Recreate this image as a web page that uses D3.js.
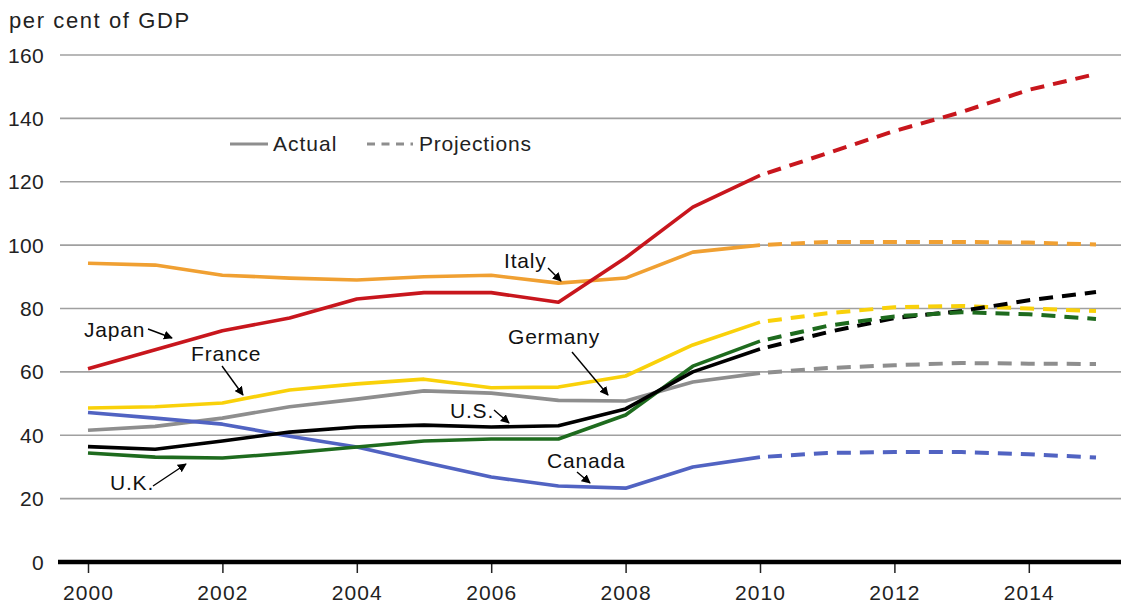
<!DOCTYPE html>
<html><head><meta charset="utf-8">
<script src="https://cdn.jsdelivr.net/npm/d3@7"></script>
<style>
body{margin:0;background:#fff;}
svg{display:block;font-family:"Liberation Sans",Arial,sans-serif;}
</style></head><body>
<svg id="c" width="1121" height="609"></svg>
<script>
const actualYears = [2000,2001,2002,2003,2004,2005,2006,2007,2008,2009,2010];
const projYears = [2010,2011,2012,2013,2014,2015];
const yTicks = [0,20,40,60,80,100,120,140,160];
const xTicks = [2000,2002,2004,2006,2008,2010,2012,2014];

const countries = ["Japan","Italy","France","Germany","U.S.","U.K.","Canada"];
const colors = ["#c8161d","#f0a032","#f9d10a","#8e8e8e","#000000","#1e6b1e","#5163c2"];

const japanActual   = [61,67,73,77,83,85,85,82,96,112,122];
const japanProj     = [122,129,136,142,149,154];
const italyActual   = [94.3,93.7,90.5,89.6,89,90,90.5,88,89.6,97.8,100];
const italyProj     = [100,101,101,101,100.8,100.2];
const franceActual  = [48.6,49,50.2,54.3,56.2,57.7,55,55.2,58.7,68.5,75.7];
const franceProj    = [75.7,78.5,80.4,80.8,80,79.2];
const germanyActual = [41.6,42.8,45.4,49,51.4,54,53.3,51,50.8,56.8,59.6];
const germanyProj   = [59.6,61.2,62.1,62.8,62.6,62.5];
const usActual      = [36.4,35.6,38.2,41,42.6,43.2,42.6,43,48.3,60,67.2];
const usProj        = [67.2,72.5,77,79.2,82.6,85.2];
const ukActual      = [34.4,33.1,32.8,34.4,36.3,38.2,38.8,38.8,46.4,61.8,69.7];
const ukProj        = [69.7,74.5,77.5,78.8,78.2,76.7];
const canadaActual  = [47.2,45.4,43.5,39.7,36.3,31.5,26.8,24,23.3,30,33.1];
const canadaProj    = [33.1,34.4,34.7,34.7,34,33];

const actualSeries = [japanActual,italyActual,franceActual,germanyActual,usActual,ukActual,canadaActual];
const projSeries   = [japanProj,italyProj,franceProj,germanyProj,usProj,ukProj,canadaProj];

const svg = d3.select("#c");
const x = d3.scaleLinear().domain([2000,2015]).range([88,1096]);
const y = d3.scaleLinear().domain([0,160]).range([562,55]);

// title
svg.append("text").attr("x",9).attr("y",28).attr("font-size",22).attr("letter-spacing",1.6)
  .attr("fill","#222").text("per cent of GDP");

// gridlines
svg.append("g").selectAll("line").data(yTicks.filter(d=>d>0)).join("line")
  .attr("x1",60).attr("x2",1121).attr("y1",d=>y(d)).attr("y2",d=>y(d))
  .attr("stroke","#a0a0a0").attr("stroke-width",1.6);

// y labels
svg.append("g").selectAll("text").data(yTicks).join("text")
  .attr("x",44).attr("y",d=>y(d)+7.5).attr("text-anchor","end")
  .attr("font-size",21).attr("letter-spacing",0.3).attr("fill","#222").text(d=>d);

// x axis
const xAxis = d3.axisBottom(x).tickValues(xTicks).tickFormat(d3.format("d")).tickSize(11).tickPadding(8);
const gx = svg.append("g").attr("transform","translate(0,562)").call(xAxis);
gx.select(".domain").remove();
gx.selectAll(".tick line").attr("stroke","#222").attr("stroke-width",1.5);
gx.selectAll(".tick text").attr("font-size",21).attr("letter-spacing",1.1).attr("fill","#222")
  .attr("font-family","Liberation Sans, Arial, sans-serif").attr("dy","0.9em");
svg.append("line").attr("x1",58).attr("x2",1121).attr("y1",y(0)).attr("y2",y(0))
  .attr("stroke","#000").attr("stroke-width",4.5);

const line = d3.line().x(d=>x(d[0])).y(d=>y(d[1]));

// projections (dashed)
const gp = svg.append("g");
projSeries.forEach((s,i)=>{
  gp.append("path").attr("d",line(projYears.map((yr,j)=>[yr,s[j]])))
    .attr("fill","none").attr("stroke",colors[i]).attr("stroke-width",4)
    .attr("stroke-dasharray","14,9").attr("stroke-dashoffset",-8);
});
// actual (solid)
const ga = svg.append("g");
const drawOrder = [3,2,1,6,5,4,0];
drawOrder.forEach(i=>{
  ga.append("path").attr("d",line(actualYears.map((yr,j)=>[yr,actualSeries[i][j]])))
    .attr("fill","none").attr("stroke",colors[i]).attr("stroke-width",3.6)
    .attr("stroke-linejoin","round");
});

// legend
const lg = svg.append("g");
lg.append("line").attr("x1",230).attr("x2",268).attr("y1",144).attr("y2",144).attr("stroke","#8e8e8e").attr("stroke-width",3);
lg.append("text").attr("x",273).attr("y",151).attr("font-size",21).attr("letter-spacing",1).attr("fill","#222").text("Actual");
lg.append("line").attr("x1",367).attr("x2",413).attr("y1",144).attr("y2",144).attr("stroke","#8e8e8e").attr("stroke-width",3).attr("stroke-dasharray","8,6.5");
lg.append("text").attr("x",419).attr("y",151).attr("font-size",21).attr("letter-spacing",0.8).attr("fill","#222").text("Projections");

// arrow marker
svg.append("defs").append("marker").attr("id","ah").attr("viewBox","0 0 10 10")
  .attr("refX",9).attr("refY",5).attr("markerWidth",9).attr("markerHeight",9)
  .attr("markerUnits","userSpaceOnUse").attr("orient","auto")
  .append("path").attr("d","M0,0 L10,5 L0,10 Z").attr("fill","#000");

const labels = [
  {t:"Japan",  tx:84,  ty:337, a:[148,329,172,338]},
  {t:"France", tx:191, ty:361, a:[222,366,243,395]},
  {t:"Italy",  tx:504, ty:268, a:[548,268,561,281]},
  {t:"Germany",tx:508, ty:344, a:[572,352,608,395]},
  {t:"U.S.",   tx:450, ty:418, a:[494,410,509,423]},
  {t:"Canada", tx:547, ty:468, a:[577,472,590,483]},
  {t:"U.K.",   tx:110, ty:490, a:[153,486,186,464]}
];
const gl = svg.append("g");
labels.forEach(l=>{
  gl.append("text").attr("x",l.tx).attr("y",l.ty).attr("font-size",21).attr("letter-spacing",0.8)
    .attr("fill","#111").text(l.t);
  gl.append("line").attr("x1",l.a[0]).attr("y1",l.a[1]).attr("x2",l.a[2]).attr("y2",l.a[3])
    .attr("stroke","#000").attr("stroke-width",1.4).attr("marker-end","url(#ah)");
});
</script>
</body></html>
